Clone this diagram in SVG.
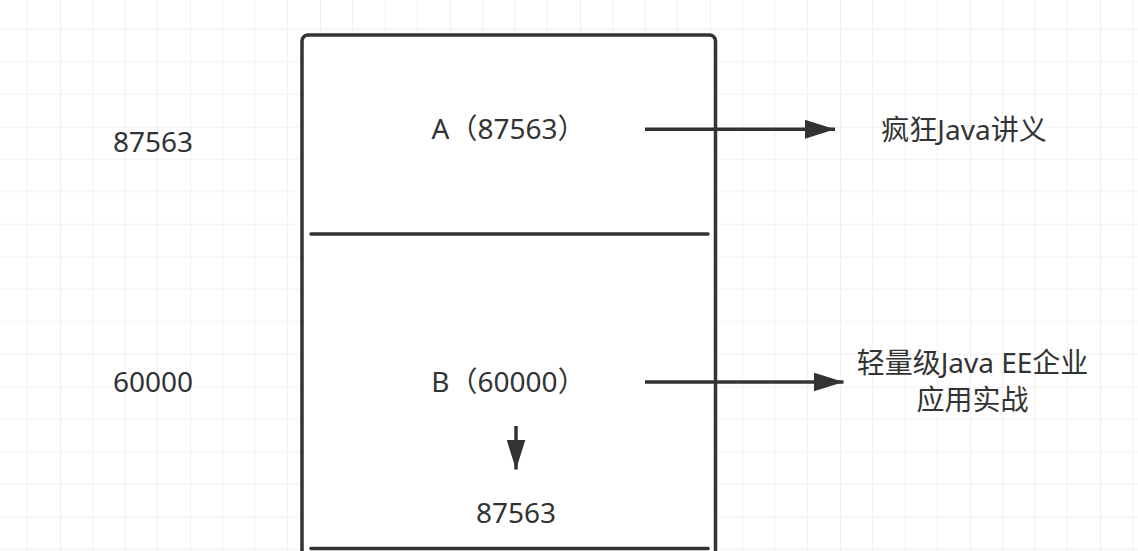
<svg xmlns="http://www.w3.org/2000/svg" width="1138" height="551" viewBox="0 0 1138 551">
  <defs>
    <pattern id="grid" patternUnits="userSpaceOnUse" x="60" y="-3.3" width="130" height="130">
      <path d="M32.5 0V130M65 0V130M97.5 0V130M0 32.5H130M0 65H130M0 97.5H130" stroke="#f1f1f1" stroke-width="1" fill="none"/>
      <path d="M0 0V130M0 0H130" stroke="#e6e6e6" stroke-width="1.2" fill="none"/>
    </pattern>
    <marker id="arrow" viewBox="0 0 30 19" refX="30" refY="9.5" markerWidth="30" markerHeight="19" markerUnits="userSpaceOnUse" orient="auto">
      <path d="M0 0L30 9.5L0 19Z" fill="#333"/>
    </marker>
  </defs>
  <style>
    text { font-family: "Noto Sans", "Noto Sans CJK SC", sans-serif; font-size: 28px; fill: #333; text-anchor: middle; }
    .box { fill: #fff; stroke: #333; stroke-width: 3.5; }
    .div { stroke: #333; stroke-width: 3.5; stroke-linecap: round; }
    .conn { stroke: #333; stroke-width: 3.5; fill: none; }
  </style>
  <rect width="1138" height="551" fill="#fff"/>
  <rect width="1138" height="551" fill="url(#grid)"/>

  <g id="label-left-87563"><text x="153" y="152">87563</text></g>
  <g id="label-left-60000"><text x="153" y="392">60000</text></g>

  <g id="memory-box">
    <rect class="box" x="302" y="35" width="413.5" height="560" rx="6"/>
    <line class="div" x1="311" y1="234" x2="708" y2="234"/>
    <line class="div" x1="311" y1="548.5" x2="708" y2="548.5"/>
  </g>

  <g id="node-a"><text x="508.5" y="139">A（87563）</text></g>
  <g id="node-b"><text x="508.5" y="392">B（60000）</text></g>
  <g id="node-b-new"><text x="516" y="523">87563</text></g>

  <g id="book-1"><text x="964" y="140">疯狂Java讲义</text></g>
  <g id="book-2">
    <text x="972.5" y="373">轻量级Java EE企业</text>
    <text x="972.5" y="410">应用实战</text>
  </g>

  <g id="connectors">
    <line class="conn" x1="645" y1="129.3" x2="835" y2="129.3" marker-end="url(#arrow)"/>
    <line class="conn" x1="645" y1="382" x2="843.5" y2="382" marker-end="url(#arrow)"/>
    <line class="conn" x1="516" y1="426" x2="516" y2="469.5" marker-end="url(#arrow)"/>
  </g>
</svg>
